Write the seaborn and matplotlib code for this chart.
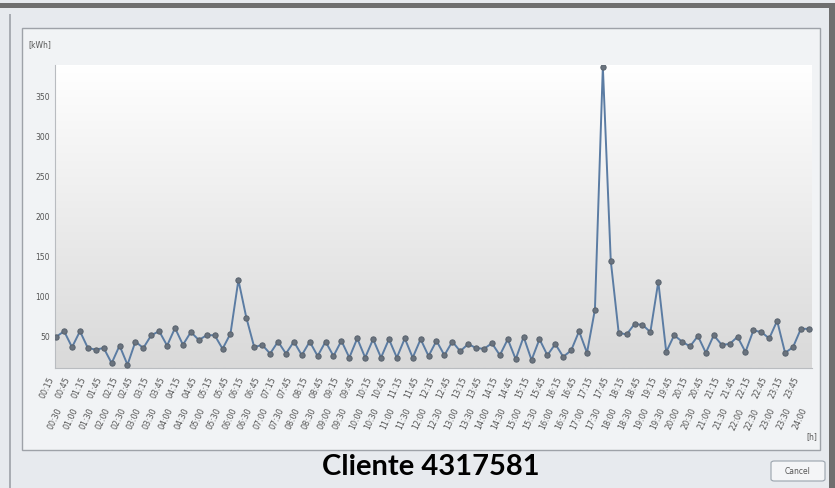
"""
plot.py — load profile of one customer, 15-minute kWh readings over a day.
"""

import matplotlib
matplotlib.use("Agg")
import matplotlib.pyplot as plt
import numpy as np
import pandas as pd
import seaborn as sns
from matplotlib.colors import LinearSegmentedColormap
from matplotlib.patches import FancyBboxPatch, Rectangle

# ── Data ──────────────────────────────────────────────────────────────────────
TITLE = "Cliente 4317581"
Y_UNIT = "[kWh]"
X_UNIT = "[h]"
Y_TICKS = [50, 100, 150, 200, 250, 300, 350]

# quarter-hour labels 00:15 ... 24:00
TIME_LABELS = [f"{m // 60:02d}:{m % 60:02d}" for m in range(15, 24 * 60 + 1, 15)]

KWH = [
    50, 57, 37, 57, 36, 34, 36, 17, 39, 15, 44, 36, 52, 57, 39, 61,
    40, 56, 46, 52, 52, 35, 54, 121, 74, 37, 40, 29, 44, 29, 44, 27,
    44, 26, 44, 26, 45, 24, 48, 24, 47, 24, 47, 24, 48, 24, 47, 26,
    45, 27, 44, 32, 41, 36, 35, 42, 27, 47, 22, 50, 21, 47, 27, 41,
    25, 33, 57, 30, 84, 388, 145, 55, 53, 66, 65, 56, 119, 31, 52, 44,
    38, 51, 30, 52, 40, 41, 50, 31, 58, 56, 48, 70, 30, 37, 60, 60,
]
assert len(KWH) == len(TIME_LABELS)

df = pd.DataFrame({"idx": range(len(KWH)), "kwh": KWH})

# ── Figure / dialog chrome ────────────────────────────────────────────────────
W, H = 835, 488
sns.set_style("white")
plt.rcParams["font.family"] = ["DejaVu Sans"]

fig = plt.figure(figsize=(W / 100, H / 100), dpi=100)
fig.patch.set_facecolor("#e7eaee")


def fx(px):
    return px / W


def fy(py):
    return 1 - py / H


def chrome(patch):
    patch.set_transform(fig.transFigure)
    patch.set_zorder(-10)
    fig.add_artist(patch)


# outer window frame (top and right dark edges, left thin line)
chrome(Rectangle((0, fy(8)), 1, fy(3) - fy(8), facecolor="#6f6f6f", edgecolor="none"))
chrome(Rectangle((fx(829), 0), fx(6), fy(8), facecolor="#6f6f6f", edgecolor="none"))
chrome(Rectangle((fx(9), 0), fx(2), fy(14), facecolor="#a9adb3", edgecolor="none"))

# inner panel
chrome(Rectangle((fx(22), fy(450)), fx(820 - 22), fy(28) - fy(450),
                 facecolor="#f1f3f5", edgecolor="#9ea2a8", linewidth=1.0))

# ── Plot area ─────────────────────────────────────────────────────────────────
ax = fig.add_axes([fx(55), fy(368), fx(812 - 55), fy(65) - fy(368)])
ax.set_zorder(5)
xlim = (-0.15, len(KWH) - 0.6)
ylim = (11, 390)

grad = LinearSegmentedColormap.from_list("bg", ["#d9d9d9", "#ffffff"])
ax.imshow(np.linspace(0, 1, 256).reshape(-1, 1), cmap=grad, origin="lower",
          extent=(*xlim, *ylim), aspect="auto", zorder=0)

sns.lineplot(data=df, x="idx", y="kwh", ax=ax, color="#5b7ca3", linewidth=1.4,
             marker="o", markersize=3.8, markerfacecolor="#6a737e",
             markeredgecolor="#59636e", zorder=3)

ax.set_xlim(*xlim)
ax.set_ylim(*ylim)
ax.set_xlabel("")
ax.set_ylabel("")

for side in ("top", "right"):
    ax.spines[side].set_visible(False)
for side in ("left", "bottom"):
    ax.spines[side].set_color("#b9bcc0")
    ax.spines[side].set_linewidth(0.8)

ax.set_yticks(Y_TICKS)
ax.set_yticklabels([str(v) for v in Y_TICKS], fontsize=5.5, color="#555555")
ax.tick_params(axis="y", length=2.5, width=0.6, color="#8a8a8a", pad=1)

ax.set_xticks(df["idx"])
ax.set_xticklabels(TIME_LABELS, rotation=65, ha="right", va="top",
                   fontsize=5.8, color="#555555")
ax.tick_params(axis="x", length=3, width=0.6, color="#8a8a8a")
for i, tick in enumerate(ax.xaxis.get_major_ticks()):
    tick.set_pad(2 if i % 2 == 0 else 25)

# ── Texts ─────────────────────────────────────────────────────────────────────
fig.text(fx(28), fy(45), Y_UNIT, fontsize=5.5, color="#555555", va="center")
fig.text(fx(806), fy(437), X_UNIT, fontsize=5.5, color="#555555", va="center")
fig.text(fx(431), fy(467), TITLE, fontsize=21, fontweight="bold",
         family=["Lato", "DejaVu Sans"], ha="center", va="center", color="black")

# cancel button
chrome(FancyBboxPatch((fx(771), fy(481)), fx(54), fy(461) - fy(481),
                      boxstyle="round,pad=0,rounding_size=0.004",
                      facecolor="#f4f5f7", edgecolor="#9aa3ad", linewidth=0.8))
fig.text(fx(798), fy(471), "Cancel", fontsize=5.5, color="#555555",
         ha="center", va="center")

fig.savefig("out.png", dpi=100, facecolor=fig.get_facecolor())
